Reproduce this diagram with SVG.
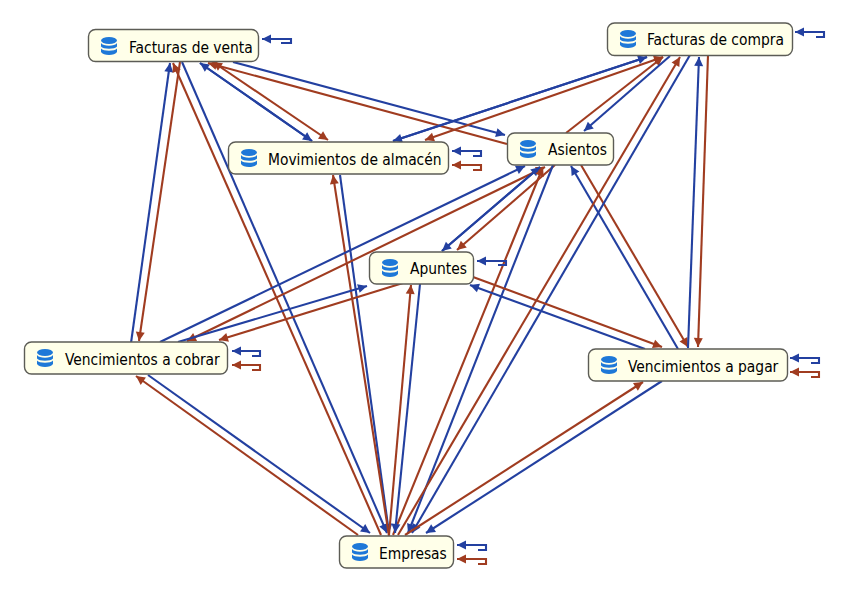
<svg xmlns="http://www.w3.org/2000/svg" width="850" height="589" viewBox="0 0 850 589">
<style>
.n{fill:#ffffe9;stroke:#5c5c56;stroke-width:1.4}
.t{font-family:"DejaVu Sans","Open Sans",sans-serif;font-stretch:condensed;font-size:15.4px;fill:#000}
.b,.r{fill:none;stroke-width:2.1}
.b{stroke:#2340a0;marker-end:url(#mb)}
.r{stroke:#a03c20;marker-end:url(#mr)}
.rr{marker-start:url(#mr)}
.i{fill:#1e78d8}
</style>
<defs>
<marker id="mb" markerUnits="userSpaceOnUse" markerWidth="11" markerHeight="10" refX="10" refY="5" orient="auto-start-reverse"><path d="M1 .5L10 5L1 9.500z" fill="#2340a0"/></marker>
<marker id="mr" markerUnits="userSpaceOnUse" markerWidth="11" markerHeight="10" refX="10" refY="5" orient="auto-start-reverse"><path d="M1 .5L10 5L1 9.500z" fill="#a03c20"/></marker>
<g id="db"><ellipse class="i" cx="0" cy="-5.500" rx="8" ry="3.500"/><path class="i" d="M-8 -3C-6 .5 6 .5 8 -3V.5C6 3.500-6 3.500-8 .5z"/><path class="i" d="M-8 2.500C-6 5.500 6 5.500 8 2.500V6C6 10-6 10-8 6z"/></g>
</defs>
<g id="connectors">
<path class="b" d="M131 343L170 63"/>
<path class="r" d="M180 62L139 341"/>
<path class="b" d="M182 62L387 533"/>
<path class="r" d="M381 535L173 63"/>
<path class="b" d="M312 141L200 63"/>
<path class="b" d="M200 63L312 141"/>
<path class="r rr" d="M328 140L213 62"/>
<path class="b" d="M233 62L505 135"/>
<path class="r" d="M507 144L208 63"/>
<path class="b" d="M393 141L647 57"/>
<path class="b" d="M647 57L393 141"/>
<path class="r rr" d="M663 57L425 140"/>
<path class="b" d="M340 175L389 533"/>
<path class="r" d="M389 536L333 175"/>
<path class="r" d="M566 133L663 57"/>
<path class="b" d="M670 56L584 131"/>
<path class="b" d="M160 342L525 166"/>
<path class="r rr" d="M545 167L187 341"/>
<path class="b" d="M442 251L540 167"/>
<path class="b" d="M540 167L442 251"/>
<path class="r" d="M555 165L457 250"/>
<path class="b" d="M553 165L408 533"/>
<path class="r" d="M393 535L543 167"/>
<path class="b" d="M678 349L571 166"/>
<path class="r" d="M581 165L688 347"/>
<path class="r" d="M398 535L680 57"/>
<path class="b" d="M690 55L412 533"/>
<path class="b" d="M688 348L699 57"/>
<path class="r" d="M708 55L698 347"/>
<path class="b" d="M178 342L367 286"/>
<path class="r" d="M403 283L219 340"/>
<path class="r" d="M473 277L662 347"/>
<path class="b" d="M645 349L470 285"/>
<path class="b" d="M420 284L395 533"/>
<path class="r" d="M389 535L411 285"/>
<path class="b" d="M662 381L426 533"/>
<path class="r" d="M405 535L643 382"/>
<path class="b" d="M148 375L370 533"/>
<path class="r" d="M358 535L136 376"/>
<path class="b" d="M281 43H291V39H262"/>
<path class="b" d="M816 37H824V32H795"/>
<path class="b" d="M473 156H481V151H452"/>
<path class="r" d="M473 170H481V165H452"/>
<path class="b" d="M498 265H506V261H477"/>
<path class="b" d="M252 356H260V351H232"/>
<path class="r" d="M252 370H260V365H232"/>
<path class="b" d="M811 363H819V358H790"/>
<path class="r" d="M811 377H819V372H790"/>
<path class="b" d="M478 550H486V545H457"/>
<path class="r" d="M478 564H486V559H457"/>
</g>
<g id="n1"><rect class="n" x="88.500" y="29.500" width="170" height="32" rx="7"/><use href="#db" x="109" y="46"/><text class="t" x="129" y="52.500">Facturas de venta</text></g>
<g id="n2"><rect class="n" x="607.500" y="23" width="185" height="32.500" rx="7"/><use href="#db" x="628" y="39"/><text class="t" x="647" y="45">Facturas de compra</text></g>
<g id="n3"><rect class="n" x="228.500" y="142" width="220" height="32" rx="7"/><use href="#db" x="249" y="158"/><text class="t" x="268" y="165">Movimientos de almacén</text></g>
<g id="n4"><rect class="n" x="507.500" y="133" width="106" height="32" rx="7"/><use href="#db" x="528" y="149"/><text class="t" x="548" y="155">Asientos</text></g>
<g id="n5"><rect class="n" x="369.500" y="252" width="104" height="32" rx="7"/><use href="#db" x="390" y="268"/><text class="t" x="410" y="274">Apuntes</text></g>
<g id="n6"><rect class="n" x="24.500" y="342" width="203" height="32" rx="7"/><use href="#db" x="45" y="358"/><text class="t" x="65" y="364.500">Vencimientos a cobrar</text></g>
<g id="n7"><rect class="n" x="588.500" y="349" width="199" height="32" rx="7"/><use href="#db" x="609" y="365"/><text class="t" x="628" y="371.500">Vencimientos a pagar</text></g>
<g id="n8"><rect class="n" x="339.500" y="536" width="114" height="32" rx="7"/><use href="#db" x="360" y="552"/><text class="t" x="379" y="558.500">Empresas</text></g>
</svg>
